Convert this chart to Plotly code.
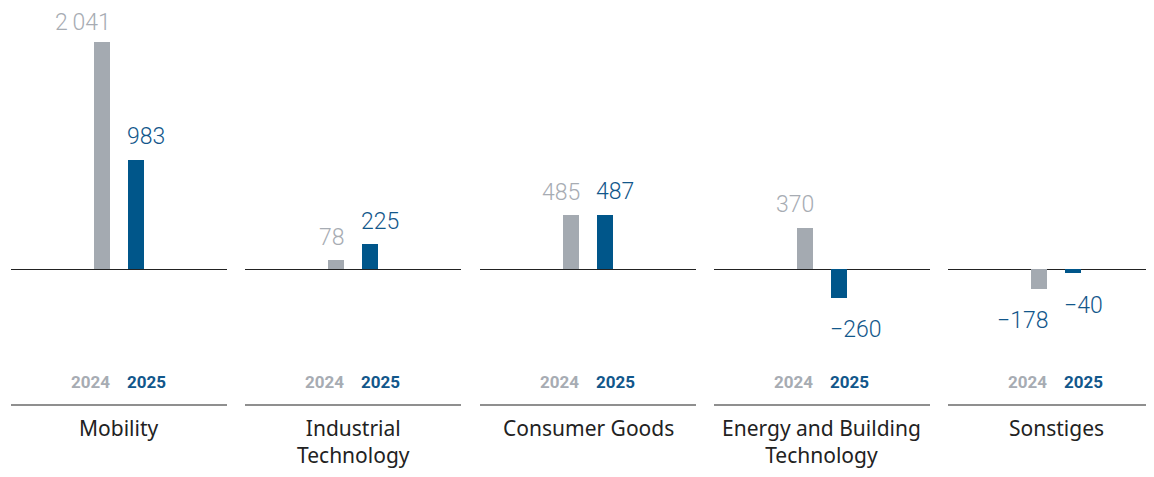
import plotly.graph_objects as go

categories = ["Mobility", "Industrial<br>Technology", "Consumer Goods",
              "Energy and Building<br>Technology", "Sonstiges"]
years = ["2024", "2025"]
values_2024 = [2041, 78, 485, 370, -178]
values_2025 = [983, 225, 487, -260, -40]
labels_2024 = ["2\u2009041", "78", "485", "370", "\u2212178"]
labels_2025 = ["983", "225", "487", "\u2212260", "\u221240"]

W, H = 1154, 477
OFF = 8                  # page body margin
grey = "#a4aab1"
blue = "#00568a"
grey_txt = "#a7acb3"
blue_txt = "#12578b"
num_font = "Roboto"
txt_font = "Noto Sans"

panel_left = [11, 245, 480, 714, 948]
panel_w = 216
px_per_cat = 34          # distance between the two bar centres
bar_w = 16
y_per_px = 9.0
baseline_px = 269


def py(p):
    return 1 - (p - OFF) / H


x_lo = 0.5 - panel_w / 2 / px_per_cat
base = baseline_px - OFF
y_range = [-(H - base) * y_per_px, base * y_per_px]
half = bar_w / 2 / px_per_cat

fig = go.Figure()
annotations = []
shapes = []

for i, cat in enumerate(categories):
    n = "" if i == 0 else str(i + 1)
    xa, ya = "x" + n, "y" + n
    left = panel_left[i] - OFF
    right = min(left + panel_w, W)
    fig.add_trace(go.Bar(x=years, y=[values_2024[i], values_2025[i]],
                         marker=dict(color=[grey, blue], line=dict(width=0)),
                         width=bar_w / px_per_cat, xaxis=xa, yaxis=ya,
                         showlegend=False, hoverinfo="skip"))
    fig.layout["xaxis" + n] = dict(domain=[left / W, right / W],
                                   range=[x_lo, x_lo + (right - left) / px_per_cat],
                                   type="category", categoryorder="array", categoryarray=years,
                                   showticklabels=False, showgrid=False, zeroline=False,
                                   showline=False, ticks="", anchor=ya, fixedrange=True)
    fig.layout["yaxis" + n] = dict(domain=[0, 1], range=y_range, showticklabels=False,
                                   showgrid=False, zeroline=True, zerolinecolor="#222222",
                                   zerolinewidth=1.2, showline=False, ticks="",
                                   anchor=xa, fixedrange=True)

    # value labels (negative values are all shown in blue)
    for j, (v, lab) in enumerate([(values_2024[i], labels_2024[i]),
                                  (values_2025[i], labels_2025[i])]):
        col = grey_txt if (j == 0 and v >= 0) else blue_txt
        if v >= 0:
            # keep the label box inside the figure for the tallest bar
            top_px = base - v / y_per_px
            shift = min(23, top_px - 15)
        else:
            shift = -32
        annotations.append(dict(
            x=j + (half if j == 0 else -half), y=v, xref=xa, yref=ya,
            text=lab, showarrow=False,
            xanchor="right" if j == 0 else "left", yanchor="middle",
            xshift=3 if j == 0 else -3, yshift=shift,
            font=dict(family=num_font, size=23, color=col, weight=300)))

    # year labels
    for j, col in enumerate([grey_txt, blue_txt]):
        annotations.append(dict(
            x=j + (half if j == 0 else -half), y=py(382), xref=xa, yref="paper",
            text="<b>" + years[j] + "</b>", showarrow=False,
            xanchor="right" if j == 0 else "left", yanchor="middle",
            xshift=2 if j == 0 else -3,
            font=dict(family=num_font, size=17, color=col)))

    # category label
    annotations.append(dict(
        x=0.5, y=py(412), xref=xa, yref="paper", text=cat, showarrow=False,
        xanchor="center", yanchor="top", align="center",
        font=dict(family=txt_font, size=21, color="#222222")))

    shapes.append(dict(type="line", xref=xa + " domain", yref="paper",
                       x0=0, x1=1, y0=py(405), y1=py(405),
                       line=dict(color="#8f8f8f", width=2.2)))

fig.update_layout(width=W, height=H, margin=dict(l=0, r=0, t=0, b=0),
                  plot_bgcolor="white", paper_bgcolor="white",
                  annotations=annotations, shapes=shapes, bargap=0)

fig.write_html("out.html")
